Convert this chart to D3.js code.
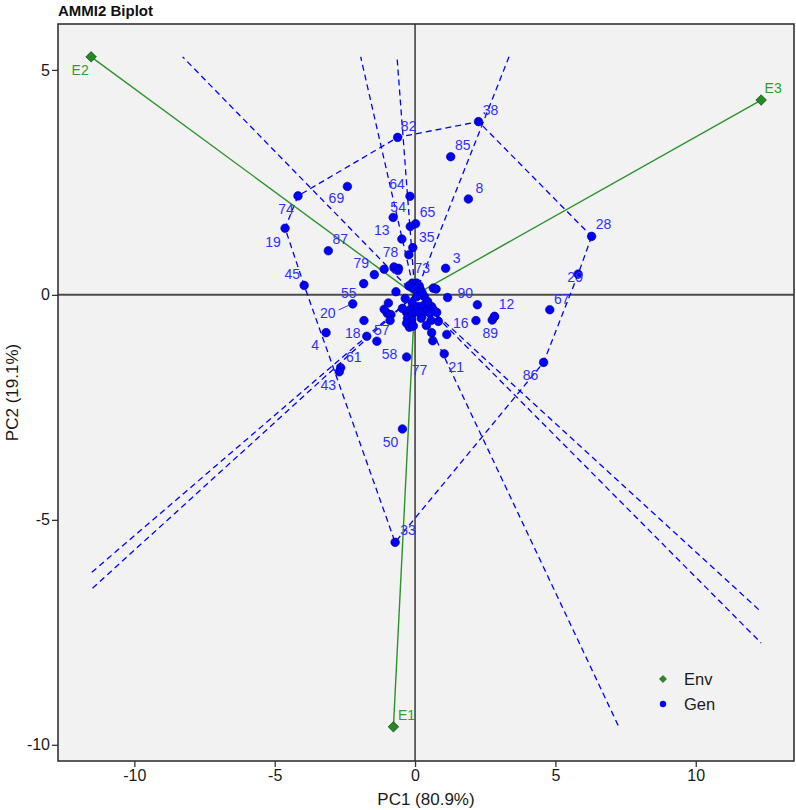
<!DOCTYPE html>
<html>
<head>
<meta charset="utf-8">
<script src="https://cdn.jsdelivr.net/npm/d3@7"></script>
<style>
  body { margin: 0; background: #fff; }
  text { font-family: "Liberation Sans", Arial, sans-serif; }
</style>
</head>
<body>
<div class="content"></div>
<script>
// environments
var envNames = ["E1", "E2", "E3"];
var envPC1 = [-0.77, -11.54, 12.33];
var envPC2 = [-9.60, 5.29, 4.33];

// genotypes (labelled ones first)
var genNames = ["38","82","85","8","64","69","74","54","65","13","35","19","87","78","79","3","73","45","55",
  "90","20","12","16","89","18","57","4","61","43","58","77","21","86","67","29","28","50","33",
  "1","2","5","6","7","9","10","11","14","15","17","22","23","24","25","26","27","30","31","32","34","36",
  "37","39","40","41","42","44","46","47","48","49","51","52","53","56","59","60","62","63","66","68",
  "70","71","72","75","76","80","81","83","84","88"];
var genPC1 = [2.26,-0.62,1.27,1.90,-0.18,-2.41,-4.17,-0.78,0.02,-0.47,-0.08,-4.63,-3.09,-0.59,-1.45,1.09,-0.10,-3.95,-1.83,
  2.22,-2.22,2.83,1.13,2.75,-1.72,-1.36,-3.17,-2.65,-2.70,-0.30,-0.20,1.04,4.58,4.80,5.81,6.29,-0.45,-0.71,
  -0.17,-0.22,-1.10,-0.75,-0.61,-0.68,-0.22,0.06,0.15,0.18,-0.06,0.10,0.65,0.75,0.33,0.06,-0.10,-0.95,-0.99,-0.86,
  -0.89,-1.10,-1.82,-0.30,-0.18,-0.08,0.04,0.12,0.30,0.36,0.15,0.59,0.65,0.77,0.53,-0.27,-0.12,-0.30,-0.06,0.57,
  0.83,0.59,0.63,1.16,2.17,0.25,-0.35,0.45,-0.45,0.22,0.40,2.83];
var genPC2 = [3.85,3.50,3.07,2.13,2.19,2.41,2.20,1.72,1.58,1.24,1.05,1.48,0.98,0.59,0.45,0.59,0.26,0.21,0.25,
  -0.22,-0.20,-0.48,-0.88,-0.56,-0.92,-1.03,-0.84,-1.62,-1.71,-1.38,-0.72,-1.31,-1.50,-0.33,0.46,1.30,-2.98,-5.50,
  1.52,0.89,0.57,0.62,0.54,0.07,0.20,0.26,0.20,0.13,0.15,0.07,0.15,0.13,-0.04,-0.04,-0.18,-0.18,-0.41,-0.44,
  -0.57,-0.32,-0.57,-0.39,-0.33,-0.42,-0.37,-0.26,-0.24,-0.37,-0.39,-0.26,-0.33,-0.39,-0.41,-0.52,-0.56,-0.63,-0.69,-0.57,
  -0.59,-0.84,-1.02,-0.06,-0.57,0.05,-0.08,-0.15,-0.30,-0.52,-0.68,-0.48];
var labelledCount = 38;

var xTicks = [-10, -5, 0, 5, 10];
var yTicks = [-10, -5, 0, 5];
var xTitle = "PC1 (80.9%)";
var yTitle = "PC2 (19.1%)";
var chartTitle = "AMMI2 Biplot";

// label nudges in pixels (where the repelled labels ended up)
var nudge = {
  "38":[12,-12],"82":[11,-11],"85":[12,-12],"8":[11,-11],"64":[-13,-12],"69":[-11,12],"74":[-12,13],
  "54":[5,-10],"65":[12,-12],"13":[-20,-9],"35":[14,-11],"19":[-12,14],"87":[12,-12],"78":[-8,-16],
  "79":[-13,-12],"3":[11,-10],"73":[10,-15],"45":[-12,-11],"55":[-15,9],"90":[-12,-12],"20":[-25,9],
  "12":[12,-12],"16":[14,-11],"89":[-2,13],"18":[-14,-3],"57":[5,-11],"4":[-11,12],"61":[13,-11],
  "43":[-11,13],"58":[-17,-3],"77":[10,43],"21":[12,13],"86":[-13,13],"67":[12,-11],"29":[-3,3],
  "28":[12,-12],"50":[-12,13],"33":[13,-12],
  "E1":[13,-12],"E2":[-11,13],"E3":[12,-12]
};

var W = 796, H = 810;
var padL = 58, padR = 794, padT = 24, padB = 761;

var svg = d3.select('.content').append('svg').attr('width', W).attr('height', H);

var x = d3.scaleLinear().domain([-12.72, 13.5]).range([padL, padR]);
var y = d3.scaleLinear().domain([-10.36, 6.02]).range([padB, padT]);

svg.append('rect')
  .attr('x', padL).attr('y', padT)
  .attr('width', padR - padL).attr('height', padB - padT)
  .attr('fill', '#f2f2f2');

svg.append('clipPath').attr('id', 'panel')
  .append('rect').attr('x', padL).attr('y', padT).attr('width', padR - padL).attr('height', padB - padT);

var plot = svg.append('g').attr('clip-path', 'url(#panel)');

// zero lines
plot.append('line').attr('x1', padL).attr('x2', padR).attr('y1', y(0)).attr('y2', y(0))
  .attr('stroke', '#4d4d4d').attr('stroke-width', 2);
plot.append('line').attr('x1', x(0)).attr('x2', x(0)).attr('y1', padT).attr('y2', padB)
  .attr('stroke', '#1a1a1a').attr('stroke-width', 1.3);

var gens = genNames.map(function(n, i) { return {name: n, pc1: genPC1[i], pc2: genPC2[i], lab: i < labelledCount}; });
var envs = envNames.map(function(n, i) { return {name: n, pc1: envPC1[i], pc2: envPC2[i]}; });

// box that the rays are clipped to: range of all scores
var all = gens.concat(envs);
var bx = d3.extent(all, function(d) { return d.pc1; });
var by = d3.extent(all, function(d) { return d.pc2; });

function rayEnd(dx, dy) {
  var t = Infinity;
  if (dx > 0) t = Math.min(t, bx[1] / dx);
  if (dx < 0) t = Math.min(t, bx[0] / dx);
  if (dy > 0) t = Math.min(t, by[1] / dy);
  if (dy < 0) t = Math.min(t, by[0] / dy);
  return [dx * t, dy * t];
}

// which-won-where polygon
var hull = d3.polygonHull(gens.map(function(d) { return [d.pc1, d.pc2]; }));
var hullPts = hull.concat([hull[0]]);

plot.append('path')
  .attr('d', d3.line().x(function(p) { return x(p[0]); }).y(function(p) { return y(p[1]); })(hullPts))
  .attr('fill', 'none').attr('stroke', '#0000ff').attr('stroke-width', 1.3)
  .attr('stroke-dasharray', '6,4');

for (var i = 0; i < hull.length; i++) {
  var a = hull[i], b = hull[(i + 1) % hull.length];
  var ex = b[0] - a[0], ey = b[1] - a[1];
  var k = -(a[0] * ex + a[1] * ey) / (ex * ex + ey * ey);
  var fx = a[0] + k * ex, fy = a[1] + k * ey;
  var end = rayEnd(fx, fy);
  plot.append('line')
    .attr('x1', x(0)).attr('y1', y(0))
    .attr('x2', x(end[0])).attr('y2', y(end[1]))
    .attr('stroke', '#0000ff').attr('stroke-width', 1.3)
    .attr('stroke-dasharray', '6,4');
}

// environment vectors
plot.selectAll('line.env').data(envs).enter().append('line')
  .attr('class', 'env')
  .attr('x1', x(0)).attr('y1', y(0))
  .attr('x2', function(d) { return x(d.pc1); })
  .attr('y2', function(d) { return y(d.pc2); })
  .attr('stroke', '#2a942a').attr('stroke-width', 1.4);

var diamond = d3.symbol().type(d3.symbolDiamond2).size(70);

plot.selectAll('path.env').data(envs).enter().append('path')
  .attr('class', 'env')
  .attr('d', diamond)
  .attr('transform', function(d) { return 'translate(' + x(d.pc1) + ',' + y(d.pc2) + ')'; })
  .attr('fill', '#228b22').attr('stroke', '#1b4d1b').attr('stroke-width', 0.8);

// genotypes
plot.selectAll('circle.gen').data(gens).enter().append('circle')
  .attr('class', 'gen')
  .attr('cx', function(d) { return x(d.pc1); })
  .attr('cy', function(d) { return y(d.pc2); })
  .attr('r', 4.3)
  .attr('fill', '#0000ff').attr('stroke', '#00007a').attr('stroke-width', 0.6);

// leader for the one label pushed far away
var g20 = gens.filter(function(d) { return d.name === "20"; })[0];
plot.append('line')
  .attr('x1', x(g20.pc1) - 3).attr('y1', y(g20.pc2) + 1)
  .attr('x2', x(g20.pc1) - 14).attr('y2', y(g20.pc2) + 6)
  .attr('stroke', '#3333ff').attr('stroke-width', 1);

plot.selectAll('text.gen').data(gens.filter(function(d) { return d.lab; })).enter().append('text')
  .attr('class', 'gen')
  .attr('x', function(d) { return x(d.pc1) + nudge[d.name][0]; })
  .attr('y', function(d) { return y(d.pc2) + nudge[d.name][1]; })
  .attr('text-anchor', 'middle').attr('dominant-baseline', 'central')
  .attr('font-size', 14).attr('fill', '#2f2fff')
  .text(function(d) { return d.name; });

plot.selectAll('text.env').data(envs).enter().append('text')
  .attr('class', 'env')
  .attr('x', function(d) { return x(d.pc1) + nudge[d.name][0]; })
  .attr('y', function(d) { return y(d.pc2) + nudge[d.name][1]; })
  .attr('text-anchor', 'middle').attr('dominant-baseline', 'central')
  .attr('font-size', 14).attr('fill', '#2e9e2e')
  .text(function(d) { return d.name; });

// legend
var legend = svg.append('g').attr('transform', 'translate(663,679)');
legend.append('path').attr('d', d3.symbol().type(d3.symbolDiamond2).size(32))
  .attr('fill', '#228b22').attr('stroke', '#1b4d1b').attr('stroke-width', 0.6);
legend.append('circle').attr('cx', 0).attr('cy', 25).attr('r', 3.2).attr('fill', '#0000ff');
legend.append('text').attr('x', 21).attr('y', 0).attr('dominant-baseline', 'central')
  .attr('font-size', 16.5).attr('fill', '#1a1a1a').text('Env');
legend.append('text').attr('x', 21).attr('y', 25).attr('dominant-baseline', 'central')
  .attr('font-size', 16.5).attr('fill', '#1a1a1a').text('Gen');

// frame
svg.append('rect')
  .attr('x', padL).attr('y', padT)
  .attr('width', padR - padL).attr('height', padB - padT)
  .attr('fill', 'none').attr('stroke', '#333').attr('stroke-width', 1.6);

// axes
var xAxis = svg.append('g').attr('transform', 'translate(0,' + padB + ')')
  .call(d3.axisBottom(x).tickValues(xTicks).tickSize(6).tickSizeOuter(0).tickFormat(function(d) { return String(d); }));
var yAxis = svg.append('g').attr('transform', 'translate(' + padL + ',0)')
  .call(d3.axisLeft(y).tickValues(yTicks).tickSize(6).tickSizeOuter(0).tickFormat(function(d) { return String(d); }));

[xAxis, yAxis].forEach(function(ax) {
  ax.select('.domain').remove();
  ax.selectAll('.tick line').attr('stroke', '#333').attr('stroke-width', 1.3);
  ax.selectAll('.tick text').attr('font-size', 16).attr('fill', '#1a1a1a')
    .attr('font-family', '"Liberation Sans", Arial, sans-serif');
});
xAxis.selectAll('.tick text').attr('dy', '0.71em').attr('y', 9);
yAxis.selectAll('.tick text').attr('x', -8);

svg.append('text').attr('x', (padL + padR) / 2).attr('y', 805)
  .attr('text-anchor', 'middle').attr('font-size', 17).attr('fill', '#1a1a1a').text(xTitle);
svg.append('text').attr('transform', 'translate(18,' + ((padT + padB) / 2) + ') rotate(-90)')
  .attr('text-anchor', 'middle').attr('font-size', 17).attr('fill', '#1a1a1a').text(yTitle);

svg.append('text').attr('x', padL).attr('y', 16)
  .attr('font-size', 15).attr('font-weight', 'bold').attr('fill', '#111').text(chartTitle);
</script>
</body>
</html>
